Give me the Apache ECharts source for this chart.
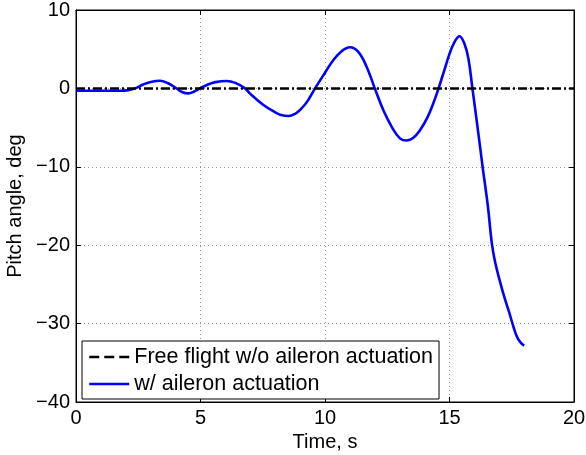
<!DOCTYPE html>
<html>
<head>
<meta charset="utf-8">
<script src="https://cdn.jsdelivr.net/npm/echarts@6/dist/echarts.min.js"></script>
<style>
html,body{margin:0;padding:0;background:#fff;}
#chart{width:586px;height:455px;}
</style>
</head>
<body>
<div id="chart"></div>
<script>
var timeAct = [0, 1.0, 1.8, 2.1, 2.37, 2.7, 3.0, 3.37, 3.7, 4.04, 4.25, 4.51, 4.75, 4.98, 5.3, 5.6, 6.05, 6.4, 6.79, 7.0, 7.5, 8.0, 8.2, 8.53, 8.8, 9.0, 9.27, 9.6, 10.0, 10.33, 10.67, 11.0, 11.33, 11.67, 12.0, 12.34, 12.68, 13.01, 13.28, 13.55, 13.82, 14.1, 14.35, 14.56, 14.8, 15.0, 15.2, 15.4, 15.6, 15.76, 15.92, 16.1, 16.33, 16.54, 16.71, 16.85, 17.0, 17.2, 17.4, 17.53, 17.7, 17.85, 18.0];
var pitchAct = [-0.3, -0.3, -0.3, -0.22, 0, 0.5, 0.82, 0.98, 0.65, 0, -0.45, -0.63, -0.4, 0, 0.5, 0.8, 0.94, 0.7, 0, -0.7, -2.05, -3.05, -3.35, -3.52, -3.25, -2.74, -1.75, 0, 2.0, 3.6, 4.75, 5.24, 4.68, 2.77, 0, -2.76, -4.9, -6.37, -6.65, -6.3, -5.3, -3.8, -1.9, 0, 2.4, 4.4, 5.9, 6.65, 5.7, 3.8, 0, -4.3, -10, -15, -20, -22.4, -24.3, -26.6, -28.6, -30, -31.6, -32.4, -32.8];
var timeFree = [0, 20];
var pitchFree = [0, 0];
var xTicks = [0, 5, 10, 15, 20];
var yTicks = [-40, -30, -20, -10, 0, 10];
var seriesNames = ['Free flight w/o aileron actuation', 'w/ aileron actuation'];

function pairs(a, b) { return a.map(function (v, i) { return [v, b[i]]; }); }
var font = 'Liberation Sans, Arial, Helvetica, sans-serif';
var chart = echarts.init(document.getElementById('chart'), null, {renderer: 'canvas'});
var fmt = function (v) { return String(v).replace('-', '\u2212'); };
var tickStyle = {show: true, inside: true, length: 5, lineStyle: {color: '#000', width: 1}};
chart.setOption({
  animation: false,
  backgroundColor: '#ffffff',
  grid: {left: 76, right: 12, top: 10, bottom: 53, containLabel: false, outerBoundsMode: 'none', show: true, borderColor: '#000', borderWidth: 1, backgroundColor: 'transparent'},
  legend: {
    orient: 'vertical', left: 82, top: 341,
    padding: [5, 6, 4, 6], itemGap: 5, itemWidth: 40, itemHeight: 20,
    borderColor: '#000', borderWidth: 1, backgroundColor: '#fff',
    itemStyle: {opacity: 0, borderWidth: 0},
    lineStyle: {width: 2.5},
    textStyle: {fontFamily: font, fontSize: 21.5, color: '#000'},
    data: [
      {name: seriesNames[0], itemStyle: {opacity: 0}, lineStyle: {type: 'dashed', color: '#000', width: 2.5}},
      {name: seriesNames[1], itemStyle: {opacity: 0}}
    ]
  },
  xAxis: [{
    type: 'value', min: xTicks[0], max: xTicks[xTicks.length - 1], interval: 5, position: 'bottom',
    name: 'Time, s', nameLocation: 'middle', nameGap: 28,
    nameTextStyle: {fontFamily: font, fontSize: 20, color: '#000'},
    axisLine: {show: true, onZero: false, lineStyle: {color: '#000', width: 1}},
    axisTick: tickStyle,
    axisLabel: {fontFamily: font, fontSize: 20, color: '#000', margin: 6, formatter: fmt},
    splitLine: {show: true, lineStyle: {color: '#999', type: [1, 3], width: 1}}
  }, {
    type: 'value', min: xTicks[0], max: xTicks[xTicks.length - 1], interval: 5, position: 'top',
    axisLine: {show: true, onZero: false, lineStyle: {color: '#000', width: 1}},
    axisTick: tickStyle,
    axisLabel: {show: false}, splitLine: {show: false}
  }],
  yAxis: [{
    type: 'value', min: yTicks[0], max: yTicks[yTicks.length - 1], interval: 10, position: 'left',
    name: 'Pitch angle, deg', nameLocation: 'middle', nameGap: 48, nameRotate: 90,
    nameTextStyle: {fontFamily: font, fontSize: 20, color: '#000'},
    axisLine: {show: true, onZero: false, lineStyle: {color: '#000', width: 1}},
    axisTick: tickStyle,
    axisLabel: {fontFamily: font, fontSize: 20, color: '#000', margin: 6, formatter: fmt},
    splitLine: {show: true, lineStyle: {color: '#999', type: [1, 3], width: 1}}
  }, {
    type: 'value', min: yTicks[0], max: yTicks[yTicks.length - 1], interval: 10, position: 'right',
    axisLine: {show: true, onZero: false, lineStyle: {color: '#000', width: 1}},
    axisTick: tickStyle,
    axisLabel: {show: false}, splitLine: {show: false}
  }],
  series: [{
    name: seriesNames[0], type: 'line', xAxisIndex: 0, yAxisIndex: 0,
    data: pairs(timeFree, pitchFree), showSymbol: false, symbol: 'none',
    lineStyle: {color: '#000', width: 2.5, type: [9, 3, 2, 3]}, itemStyle: {color: '#000'}, z: 3
  }, {
    name: seriesNames[1], type: 'line', xAxisIndex: 0, yAxisIndex: 0,
    data: pairs(timeAct, pitchAct), showSymbol: false, symbol: 'none', smooth: 0.4,
    lineStyle: {color: '#0000ff', width: 2.6}, itemStyle: {color: '#0000ff'}, z: 2
  }]
});
</script>
</body>
</html>
